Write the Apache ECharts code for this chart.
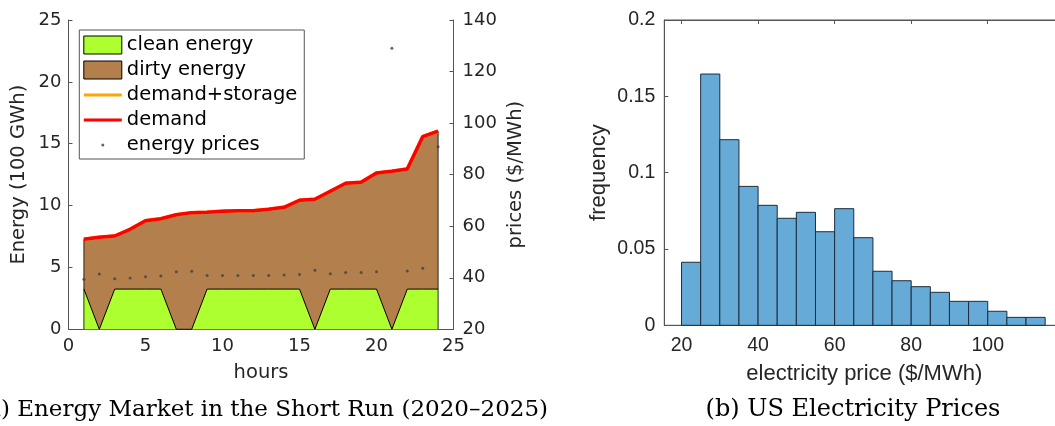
<!DOCTYPE html>
<html>
<head>
<meta charset="utf-8">
<script src="https://cdn.jsdelivr.net/npm/echarts@6/dist/echarts.min.js"></script>
<style>
html,body{margin:0;padding:0;background:#fff;}
#c{width:1055px;height:426px;}
</style>
</head>
<body>
<div id="c"></div>
<script>
// ---------- data: (a) energy market ----------
const hours = [1,2,3,4,5,6,7,8,9,10,11,12,13,14,15,16,17,18,19,20,21,22,23,24];
const demand = [7.28,7.44,7.54,8.08,8.78,8.94,9.26,9.43,9.46,9.54,9.59,9.59,9.70,9.86,10.43,10.51,11.16,11.80,11.88,12.64,12.77,12.96,15.57,16.01];
const demandStorage = [7.28,7.44,7.54,8.08,8.78,8.94,9.26,9.43,9.46,9.54,9.59,9.59,9.70,9.86,10.43,10.51,11.16,11.80,11.88,12.64,12.77,12.96,15.57,16.01];
const clean = [3.25,0,3.25,3.25,3.25,3.25,0,0,3.25,3.25,3.25,3.25,3.25,3.25,3.25,0,3.25,3.25,3.25,3.25,0,3.25,3.25,3.25];
const prices = [39.4,41.5,39.6,39.9,40.4,40.7,42.3,42.5,40.9,40.9,40.9,40.9,40.9,41.1,41.3,42.9,41.6,42.0,42.0,42.3,129.0,42.6,43.7,90.8];
const energyTicks = [0,5,10,15,20,25];
const priceTicks = [20,40,60,80,100,120,140];
const hourTicks = [0,5,10,15,20,25];

// ---------- data: (b) US electricity price histogram ----------
const binEdges = [20,25,30,35,40,45,50,55,60,65,70,75,80,85,90,95,100,105,110,115];
const frequency = [0.0413,0.1646,0.1216,0.0910,0.0786,0.0701,0.0740,0.0613,0.0764,0.0574,0.0354,0.0292,0.0253,0.0216,0.0157,0.0157,0.0092,0.0052,0.0052];
const priceLabelTicks = [20,40,60,80,100];
const freqTicks = [0,0.05,0.1,0.15,0.2];

const captions = ['(a) Energy Market in the Short Run (2020\u20132025)', '(b) US Electricity Prices'];

// derived: dirty energy fills the band between clean supply and demand
const pairs = arr => hours.map((h,i) => [h, arr[i]]);
const edgeL = [[hours[0],0],[hours[0],demand[0]]];
const edgeR = [[hours[hours.length-1],0],[hours[hours.length-1],demand[demand.length-1]]];
const histData = frequency.map((f,i) => [binEdges[i], binEdges[i+1], f]);

const AX = '#262626';
const LINE = '#555';
const fA = 'DejaVu Sans';
const fB = 'Liberation Sans';
const lineIcon = 'path://M0,0M38,18M0,7.4L38,7.4L38,10.6L0,10.6Z';
const dotIcon = 'path://M0,0M38,18M17.5,9a1.5,1.5,0,1,0,3,0a1.5,1.5,0,1,0,-3,0Z';

const chart = echarts.init(document.getElementById('c'), null, {renderer:'canvas'});
chart.setOption({
  animation:false,
  backgroundColor:'#fff',
  grid:[
    {left:68.5, top:20, width:385, height:309.3, outerBoundsMode:'none', containLabel:false},
    {left:664.3, top:20, width:400, height:305.3, outerBoundsMode:'none', containLabel:false,
     show:true, borderColor:LINE, borderWidth:1, backgroundColor:'transparent'}
  ],
  legend:{
    orient:'vertical', left:79.3, top:30,
    padding:[5,7,4,4], itemWidth:38, itemHeight:18, itemGap:5,
    backgroundColor:'#fff', borderColor:LINE, borderWidth:1, borderRadius:0,
    textStyle:{fontFamily:fA, fontSize:19.5, color:'#000'},
    selectedMode:false,
    data:[
      {name:'clean energy', icon:'rect', itemStyle:{color:'#adff2f', borderColor:'#000', borderWidth:1}},
      {name:'dirty energy', icon:'rect', itemStyle:{color:'#b3804d', borderColor:'#000', borderWidth:1}},
      {name:'demand+storage', icon:lineIcon, itemStyle:{color:'#ffa500', borderWidth:0}},
      {name:'demand', icon:lineIcon, itemStyle:{color:'#ff0000', borderWidth:0}},
      {name:'energy prices', icon:dotIcon, itemStyle:{color:'#404040', borderWidth:0}}
    ]
  },
  xAxis:[
    {gridIndex:0, type:'value', min:hourTicks[0], max:hourTicks[hourTicks.length-1], interval:5,
     name:'hours', nameLocation:'middle', nameGap:34,
     nameTextStyle:{fontFamily:fA, fontSize:19.5, color:AX},
     axisLine:{show:true, onZero:false, lineStyle:{color:LINE, width:1}},
     axisTick:{show:true, inside:true, length:4, lineStyle:{color:LINE}},
     axisLabel:{fontFamily:fA, fontSize:18, color:AX, margin:8, showMinLabel:true, showMaxLabel:true, hideOverlap:false},
     splitLine:{show:false}},
    {gridIndex:1, type:'value', min:15.5, max:120, position:'bottom',
     name:'electricity price ($/MWh)', nameLocation:'middle', nameGap:38,
     nameTextStyle:{fontFamily:fB, fontSize:22, color:AX},
     axisLine:{show:true, onZero:false, lineStyle:{color:LINE, width:1}},
     axisTick:{show:true, inside:true, length:4, customValues:priceLabelTicks, lineStyle:{color:LINE}},
     axisLabel:{fontFamily:fB, fontSize:19.5, color:AX, margin:10, customValues:priceLabelTicks},
     splitLine:{show:false}},
    {gridIndex:1, type:'value', min:15.5, max:120, position:'top',
     axisLine:{show:true, onZero:false, lineStyle:{color:LINE, width:1}},
     axisTick:{show:true, inside:true, length:4, customValues:priceLabelTicks, lineStyle:{color:LINE}},
     axisLabel:{show:false},
     splitLine:{show:false}}
  ],
  yAxis:[
    {gridIndex:0, type:'value', min:energyTicks[0], max:energyTicks[energyTicks.length-1], interval:5, position:'left',
     name:'Energy (100 GWh)', nameLocation:'middle', nameGap:40, nameRotate:90,
     nameTextStyle:{fontFamily:fA, fontSize:19.5, color:AX},
     axisLine:{show:true, onZero:false, lineStyle:{color:LINE, width:1}},
     axisTick:{show:true, inside:true, length:4, lineStyle:{color:LINE}},
     axisLabel:{fontFamily:fA, fontSize:18, color:AX, margin:7, showMinLabel:true, showMaxLabel:true, hideOverlap:false},
     splitLine:{show:false}},
    {gridIndex:0, type:'value', min:priceTicks[0], max:priceTicks[priceTicks.length-1], interval:20, position:'right',
     name:'prices ($/MWh)', nameLocation:'middle', nameGap:52, nameRotate:90,
     nameTextStyle:{fontFamily:fA, fontSize:19.5, color:AX},
     axisLine:{show:true, onZero:false, lineStyle:{color:LINE, width:1}},
     axisTick:{show:true, inside:true, length:4, lineStyle:{color:LINE}},
     axisLabel:{fontFamily:fA, fontSize:18, color:AX, margin:9, showMinLabel:true, showMaxLabel:true, hideOverlap:false},
     splitLine:{show:false}},
    {gridIndex:1, type:'value', min:freqTicks[0], max:freqTicks[freqTicks.length-1], interval:0.05, position:'left',
     name:'frequency', nameLocation:'middle', nameGap:54, nameRotate:90,
     nameTextStyle:{fontFamily:fB, fontSize:22, color:AX},
     axisLine:{show:true, onZero:false, lineStyle:{color:LINE, width:1}},
     axisTick:{show:true, inside:true, length:4, lineStyle:{color:LINE}},
     axisLabel:{fontFamily:fB, fontSize:19.5, color:AX, margin:9, showMinLabel:true, showMaxLabel:true, hideOverlap:false},
     splitLine:{show:false}}
  ],
  series:[
    {name:'dirty energy', type:'line', xAxisIndex:0, yAxisIndex:0, data:pairs(demand),
     symbol:'none', itemStyle:{color:'#b3804d'},
     lineStyle:{color:'#000', width:0.8}, areaStyle:{color:'#b3804d', opacity:1, origin:'start'}, z:1},
    {name:'clean energy', type:'line', xAxisIndex:0, yAxisIndex:0, data:pairs(clean),
     symbol:'none', itemStyle:{color:'#adff2f'},
     lineStyle:{color:'#000', width:1}, areaStyle:{color:'#adff2f', opacity:1, origin:'start'}, z:2},
    {name:'edges', type:'line', xAxisIndex:0, yAxisIndex:0, data:edgeL, symbol:'none',
     lineStyle:{color:'#000', width:0.8}, z:3, silent:true},
    {name:'edges', type:'line', xAxisIndex:0, yAxisIndex:0, data:edgeR, symbol:'none',
     lineStyle:{color:'#000', width:0.8}, z:3, silent:true},
    {name:'demand+storage', type:'line', xAxisIndex:0, yAxisIndex:0, data:pairs(demandStorage),
     symbol:'none', itemStyle:{color:'#ffa500'}, lineStyle:{color:'#ffa500', width:3.5}, z:4},
    {name:'demand', type:'line', xAxisIndex:0, yAxisIndex:0, data:pairs(demand),
     symbol:'none', itemStyle:{color:'#ff0000'}, lineStyle:{color:'#ff0000', width:3.5}, z:5},
    {name:'energy prices', type:'scatter', xAxisIndex:0, yAxisIndex:1, data:pairs(prices),
     symbol:'circle', symbolSize:3, itemStyle:{color:'#404040'}, z:6},
    {name:'histogram', type:'custom', xAxisIndex:1, yAxisIndex:2, data:histData,
     encode:{x:[0,1], y:2},
     renderItem:function(params, api){
       const p0 = api.coord([api.value(0), api.value(2)]);
       const p1 = api.coord([api.value(1), 0]);
       return {type:'rect', shape:{x:p0[0], y:p0[1], width:p1[0]-p0[0], height:p1[1]-p0[1]},
               style:{fill:'#66aad7', stroke:'#1e2d3b', lineWidth:1}};
     }, z:2}
  ],
  graphic:[
    {type:'text', x:548, y:410, style:{text:captions[0], font:'23px "DejaVu Serif"', fill:'#000', textAlign:'right', textVerticalAlign:'middle'}},
    {type:'text', x:853, y:410, style:{text:captions[1], font:'24px "DejaVu Serif"', fill:'#000', textAlign:'center', textVerticalAlign:'middle'}}
  ]
});
</script>
</body>
</html>
